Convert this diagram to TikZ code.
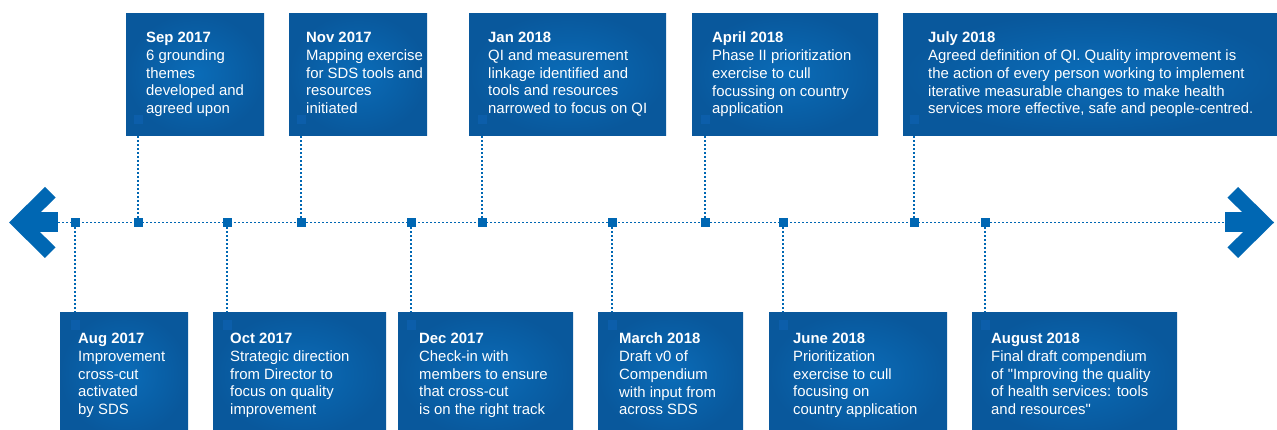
\documentclass[tikz,border=0pt]{standalone}
\usepackage{fontspec}
\setmainfont{Liberation Sans}[Ligatures=TeXOff]
\usetikzlibrary{positioning, backgrounds}
\definecolor{tlblue}{RGB}{0,103,179}
\definecolor{boxin}{RGB}{10,108,184}
\definecolor{boxout}{RGB}{9,88,156}
\definecolor{sqblue}{RGB}{12,94,170}

\begin{document}
\begin{tikzpicture}[
          x=1pt, y=-1pt,
          ev/.style={rectangle, anchor=north west, inner sep=0pt,
                     inner color=boxin, outer color=boxout,
                     minimum width=#1},
          up/.style={minimum height=122pt},
          dn/.style={minimum height=124pt},
          txt/.style={anchor=north west, inner sep=0pt, align=left,
                      text=white, font=\fontsize{14.9}{17.7}\selectfont},
          mk/.style={rectangle, fill=tlblue, minimum size=9pt, inner sep=0pt},
          sq/.style={rectangle, fill=sqblue, minimum size=9pt, inner sep=0pt},
          link/.style={draw=tlblue, line width=1.1pt,
                       dash pattern=on 2pt off 2pt},
          chev/.style={fill=tlblue}
        ]
          \useasboundingbox (0,0) rectangle (1277,430);

          % arrows at both ends
          \fill[chev] (9,222.5) -- (45,187) -- (55.6,197.6) -- (30.2,222.5)
                      -- (55.6,247.4) -- (45,258) -- cycle;
          \fill[chev] (30,212.5) rectangle (58,232.5);
          \fill[chev] (1274,222.5) -- (1238,187) -- (1227.4,197.6) -- (1252.8,222.5)
                      -- (1227.4,247.4) -- (1238,258) -- cycle;
          \fill[chev] (1225,212.5) rectangle (1253,232.5);
          \coordinate (lend) at (58,222.5);
          \coordinate (rend) at (1225,222.5);

          % top boxes
          \node[ev=138pt, up] (sep)   at (126,13) {};
          \node[ev=138pt, up] (nov)   at (289,13) {};
          \node[ev=197pt, up] (jan)   at (469,13) {};
          \node[ev=186pt, up] (apr)   at (692,13) {};
          \node[ev=380pt, up] (jul)   at (903,13) {};
          % bottom boxes
          \node[ev=128pt, dn] (aug)   at (60,312) {};
          \node[ev=173pt, dn] (oct)   at (213,312) {};
          \node[ev=175pt, dn] (dec)   at (398,312) {};
          \node[ev=145pt, dn] (mar)   at (598,312) {};
          \node[ev=178pt, dn] (jun)   at (769,312) {};
          \node[ev=205pt, dn] (augb)  at (972,312) {};

          % texts
          \node[txt, below right=19pt and 20pt of sep.north west] (tsep)
            {\textbf{Sep 2017}\\6 grounding\\themes\\developed and\\agreed upon};
          \node[txt, below right=19pt and 17pt of nov.north west] (tnov)
            {\textbf{Nov 2017}\\Mapping exercise\\for SDS tools and\\resources\\initiated};
          \node[txt, below right=19pt and 19pt of jan.north west] (tjan)
            {\textbf{Jan 2018}\\QI and measurement\\linkage identified and\\tools and resources\\narrowed to focus on QI};
          \node[txt, below right=19pt and 20pt of apr.north west] (tapr)
            {\textbf{April 2018}\\Phase II prioritization\\exercise to cull\\focussing on country\\application};
          \node[txt, below right=19pt and 25pt of jul.north west] (tjul)
            {\textbf{July 2018}\\Agreed definition of QI. Quality improvement is\\the action of every person working to implement\\iterative measurable changes to make health\\services more effective, safe and people-centred.};
          \node[txt, below right=21pt and 18pt of aug.north west] (taug)
            {\textbf{Aug 2017}\\Improvement\\cross-cut\\activated\\by SDS};
          \node[txt, below right=21pt and 17pt of oct.north west] (toct)
            {\textbf{Oct 2017}\\Strategic direction\\from Director to\\focus on quality\\improvement};
          \node[txt, below right=21pt and 21pt of dec.north west] (tdec)
            {\textbf{Dec 2017}\\Check-in with\\members to ensure\\that cross-cut\\is on the right track};
          \node[txt, below right=21pt and 21pt of mar.north west] (tmar)
            {\textbf{March 2018}\\Draft v0 of\\Compendium\\with input from\\across SDS};
          \node[txt, below right=21pt and 24pt of jun.north west] (tjun)
            {\textbf{June 2018}\\Prioritization\\exercise to cull\\focusing on\\country application};
          \node[txt, below right=21pt and 19pt of augb.north west] (taugb)
            {\textbf{August 2018}\\Final draft compendium\\of "Improving the quality\\of health services: tools\\and resources"};

          % markers on the line
          \node[mk] (m1)  at (75,222.5)  {};
          \node[mk] (m2)  at (138,222.5) {};
          \node[mk] (m3)  at (227,222.5) {};
          \node[mk] (m4)  at (301,222.5) {};
          \node[mk] (m5)  at (411,222.5) {};
          \node[mk] (m6)  at (482,222.5) {};
          \node[mk] (m7)  at (612,222.5) {};
          \node[mk] (m8)  at (705,222.5) {};
          \node[mk] (m9)  at (783,222.5) {};
          \node[mk] (m10) at (914,222.5) {};
          \node[mk] (m11) at (985,222.5) {};

          % squares inside the boxes
          \node[sq] (s1)  at (75,325)  {};
          \node[sq] (s2)  at (138,120) {};
          \node[sq] (s3)  at (227,325) {};
          \node[sq] (s4)  at (301,120) {};
          \node[sq] (s5)  at (411,325) {};
          \node[sq] (s6)  at (482,120) {};
          \node[sq] (s7)  at (612,325) {};
          \node[sq] (s8)  at (705,120) {};
          \node[sq] (s9)  at (783,325) {};
          \node[sq] (s10) at (914,120) {};
          \node[sq] (s11) at (985,325) {};

          \begin{scope}[on background layer]
            \draw[link] (lend) -- (rend);
            \foreach \i in {1,...,11}
              \draw[link] (m\i) -- (s\i);
          \end{scope}
        \end{tikzpicture}
\end{document}
